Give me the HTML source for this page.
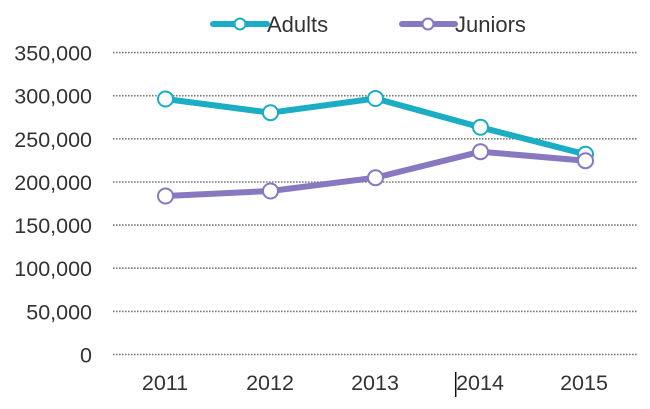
<!DOCTYPE html>
<html>
<head>
<meta charset="utf-8">
<style>
  html, body { margin: 0; padding: 0; background: #fff; }
  svg { display: block; }
  text { font-family: "Liberation Sans", "DejaVu Sans", sans-serif; fill: #333; }
</style>
</head>
<body>
<svg width="650" height="409" viewBox="0 0 650 409" xmlns="http://www.w3.org/2000/svg">
  <rect width="650" height="409" fill="#fff"/>
  <!-- gridlines -->
  <g stroke="#7a7a7a" stroke-width="1.6" stroke-dasharray="1.6 1.4" fill="none">
    <line x1="113" y1="52.6" x2="638" y2="52.6"/>
    <line x1="113" y1="95.7" x2="638" y2="95.7"/>
    <line x1="113" y1="138.8" x2="638" y2="138.8"/>
    <line x1="113" y1="182" x2="638" y2="182"/>
    <line x1="113" y1="225.1" x2="638" y2="225.1"/>
    <line x1="113" y1="268.2" x2="638" y2="268.2"/>
    <line x1="113" y1="311.4" x2="638" y2="311.4"/>
    <line x1="113" y1="354.5" x2="638" y2="354.5"/>
  </g>
  <!-- y labels -->
  <g font-size="21.5" text-anchor="end">
    <text x="92" y="60.6">350,000</text>
    <text x="92" y="103.7">300,000</text>
    <text x="92" y="146.8">250,000</text>
    <text x="92" y="190">200,000</text>
    <text x="92" y="233.1">150,000</text>
    <text x="92" y="276.2">100,000</text>
    <text x="92" y="319.4">50,000</text>
    <text x="92" y="362.5">0</text>
  </g>
  <!-- x labels -->
  <g font-size="21.5" text-anchor="middle">
    <text x="165" y="390">2011</text>
    <text x="270" y="390">2012</text>
    <text x="375" y="390">2013</text>
    <text x="480" y="390">2014</text>
    <text x="584" y="390">2015</text>
  </g>
  <!-- cursor line -->
  <line x1="455.7" y1="372" x2="455.7" y2="397" stroke="#111" stroke-width="1.5"/>
  <!-- Adults -->
  <polyline points="165.5,99 270.5,112.7 375.5,98.5 480.5,127.3 585.5,154.3" fill="none" stroke="#1BADC4" stroke-width="6" stroke-linejoin="round"/>
  <g fill="#fff" stroke="#1BADC4" stroke-width="2">
    <circle cx="165.5" cy="99" r="7.5"/>
    <circle cx="270.5" cy="112.7" r="7.5"/>
    <circle cx="375.5" cy="98.5" r="7.5"/>
    <circle cx="480.5" cy="127.3" r="7.5"/>
    <circle cx="585.5" cy="154.3" r="7.5"/>
  </g>
  <!-- Juniors -->
  <polyline points="165.5,196 270.5,191 375.5,177.7 480.5,151.7 585.5,160.7" fill="none" stroke="#8878C0" stroke-width="6" stroke-linejoin="round"/>
  <g fill="#fff" stroke="#8878C0" stroke-width="2">
    <circle cx="165.5" cy="196" r="7.5"/>
    <circle cx="270.5" cy="191" r="7.5"/>
    <circle cx="375.5" cy="177.7" r="7.5"/>
    <circle cx="480.5" cy="151.7" r="7.5"/>
    <circle cx="585.5" cy="160.7" r="7.5"/>
  </g>
  <!-- legend -->
  <line x1="213" y1="24" x2="267" y2="24" stroke="#1BADC4" stroke-width="6" stroke-linecap="round"/>
  <circle cx="240" cy="24" r="5.5" fill="#fff" stroke="#1BADC4" stroke-width="2"/>
  <text x="267" y="32" font-size="22">Adults</text>
  <line x1="402" y1="24" x2="455" y2="24" stroke="#8878C0" stroke-width="6" stroke-linecap="round"/>
  <circle cx="428" cy="24" r="5.5" fill="#fff" stroke="#8878C0" stroke-width="2"/>
  <text x="455" y="32" font-size="22">Juniors</text>
</svg>
</body>
</html>
